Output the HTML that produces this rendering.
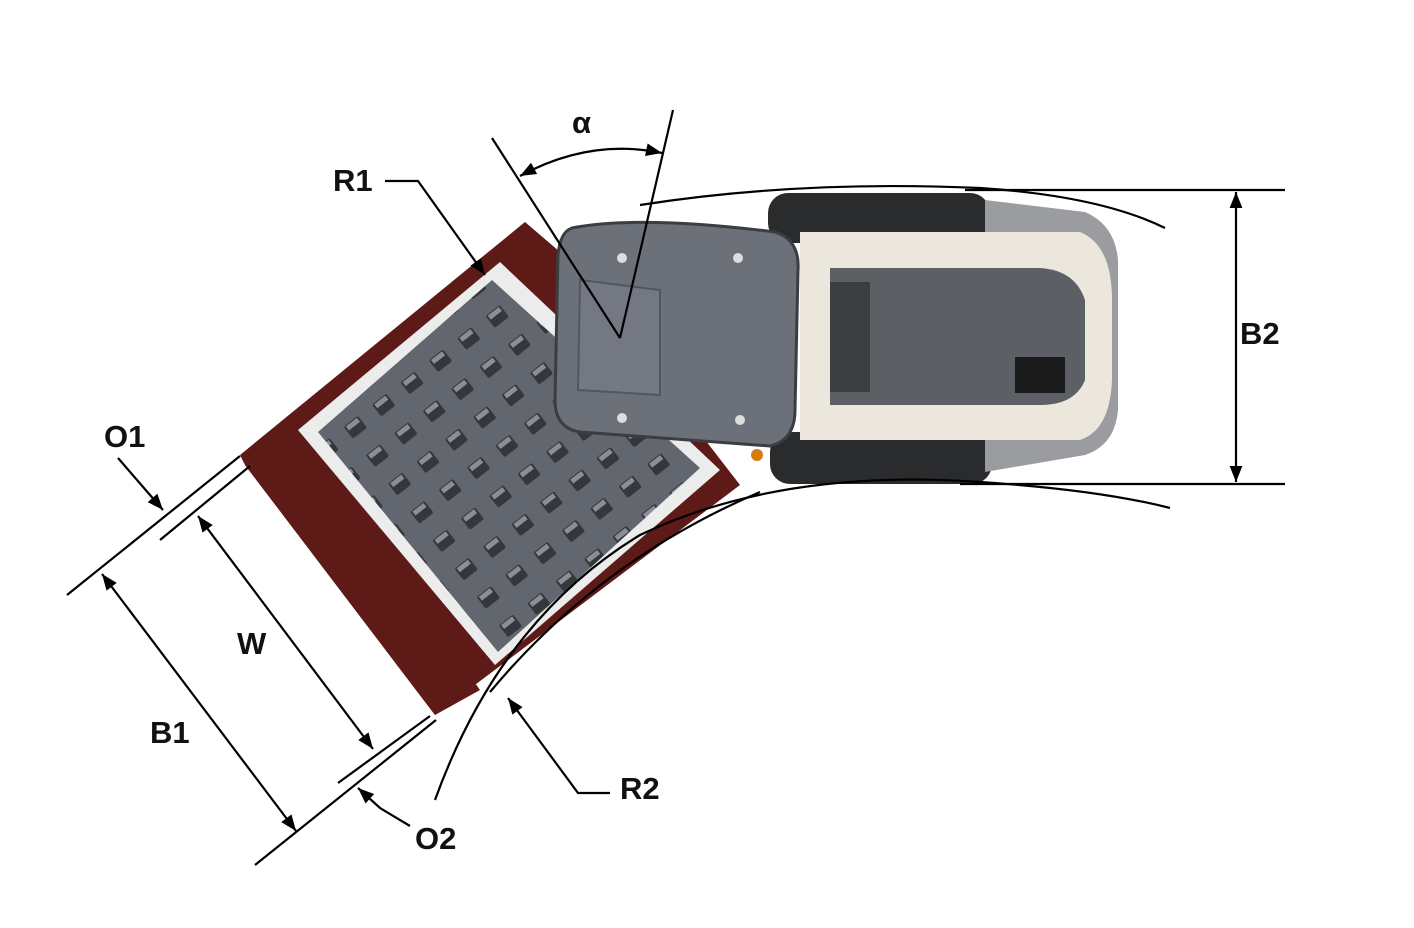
<!DOCTYPE html>
<html><head><meta charset="utf-8"><style>
body{margin:0;background:#fff}
svg{display:block}
text{font-family:"Liberation Sans",sans-serif;font-weight:bold;font-size:31px;fill:#111}
</style></head><body>
<svg width="1414" height="928" viewBox="0 0 1414 928">
<defs>
<marker id="a" viewBox="0 0 10 10" refX="10" refY="5" markerWidth="20" markerHeight="16" markerUnits="userSpaceOnUse" orient="auto-start-reverse"><path d="M0,1 L10,5 L0,9z" fill="#000"/></marker>
<pattern id="lug" width="36" height="36" patternUnits="userSpaceOnUse" patternTransform="rotate(-38)">
<rect width="36" height="36" fill="#62666e"/><rect x="8" y="8" width="18" height="15" rx="2" fill="#34373c"/><rect x="10" y="9" width="14" height="5" fill="#8a8f97"/></pattern>
</defs>
<!-- rear body -->
<rect x="768" y="193" width="222" height="50" rx="20" fill="#2a2b2d"/>
<rect x="770" y="432" width="222" height="52" rx="20" fill="#2a2b2d"/>
<path d="M985,200 L1085,212 Q1115,225 1118,260 L1118,410 Q1115,445 1085,455 L985,472z" fill="#9a9ca0"/>
<path d="M800,232 L1080,232 Q1112,245 1112,300 L1112,380 Q1110,430 1080,440 L800,440z" fill="#ece7dd"/>
<path d="M830,268 L1040,268 Q1075,270 1085,300 L1085,380 Q1075,405 1040,405 L830,405z" fill="#5c5f64"/>
<rect x="1015" y="357" width="50" height="36" fill="#1b1b1b"/>
<rect x="830" y="282" width="40" height="110" fill="#3c3e42"/>
<!-- frame -->
<polygon points="525,222 560,252 740,485 435,715 245,465 240,455" fill="#5d1a17"/>
<polygon points="500,262 720,470 495,665 298,430" fill="#ececec"/>
<polygon points="492,280 700,468 498,652 318,432" fill="url(#lug)"/>
<polygon points="245,465 298,432 480,690 435,715" fill="#5d1a17"/>
<!-- cab -->
<path d="M572,228 Q640,215 775,232 Q800,240 798,270 L795,410 Q795,440 770,446 L580,432 Q555,428 555,400 L558,255 Q560,232 572,228z" fill="#6c7079" stroke="#3a3d42" stroke-width="3"/>
<path d="M580,280 L660,290 L660,395 L578,390z" fill="#737882" stroke="#52565d" stroke-width="2"/>
<circle cx="622" cy="258" r="5" fill="#ddd"/><circle cx="738" cy="258" r="5" fill="#ddd"/>
<circle cx="622" cy="418" r="5" fill="#ddd"/><circle cx="740" cy="420" r="5" fill="#ddd"/>
<circle cx="757" cy="455" r="6" fill="#d87a10"/>
<!-- lines -->
<g stroke="#000" stroke-width="2.2" fill="none">
<line x1="492" y1="138" x2="620" y2="338"/>
<line x1="673" y1="110" x2="620" y2="338"/>
<path d="M520,176 Q590,138 662,153" marker-start="url(#a)" marker-end="url(#a)"/>
<polyline points="385,181 418,181 485,275" marker-end="url(#a)"/>
<path d="M640,205 Q800,180 980,188 Q1100,196 1165,228"/>
<path d="M435,800 Q500,620 640,535 Q780,468 980,482 Q1100,490 1170,508"/>
<path d="M490,692 Q600,560 760,492"/>
<line x1="965" y1="190" x2="1285" y2="190"/>
<line x1="960" y1="484" x2="1285" y2="484"/>
<line x1="1236" y1="192" x2="1236" y2="482" marker-start="url(#a)" marker-end="url(#a)"/>
<line x1="67" y1="595" x2="240" y2="456"/>
<line x1="160" y1="540" x2="250" y2="466"/>
<line x1="255" y1="865" x2="436" y2="720"/>
<line x1="338" y1="783" x2="430" y2="716"/>
<line x1="102" y1="574" x2="296" y2="831" marker-start="url(#a)" marker-end="url(#a)"/>
<line x1="198" y1="516" x2="373" y2="749" marker-start="url(#a)" marker-end="url(#a)"/>
<line x1="118" y1="458" x2="163" y2="510" marker-end="url(#a)"/>
<polyline points="410,826 380,808 358,788" marker-end="url(#a)"/>
<polyline points="610,793 578,793 508,698" marker-end="url(#a)"/>
</g>
<text x="572" y="133">α</text>
<text x="333" y="191">R1</text>
<text x="104" y="447">O1</text>
<text x="237" y="654">W</text>
<text x="150" y="743">B1</text>
<text x="620" y="799">R2</text>
<text x="415" y="849">O2</text>
<text x="1240" y="344">B2</text>
</svg>
</body></html>
